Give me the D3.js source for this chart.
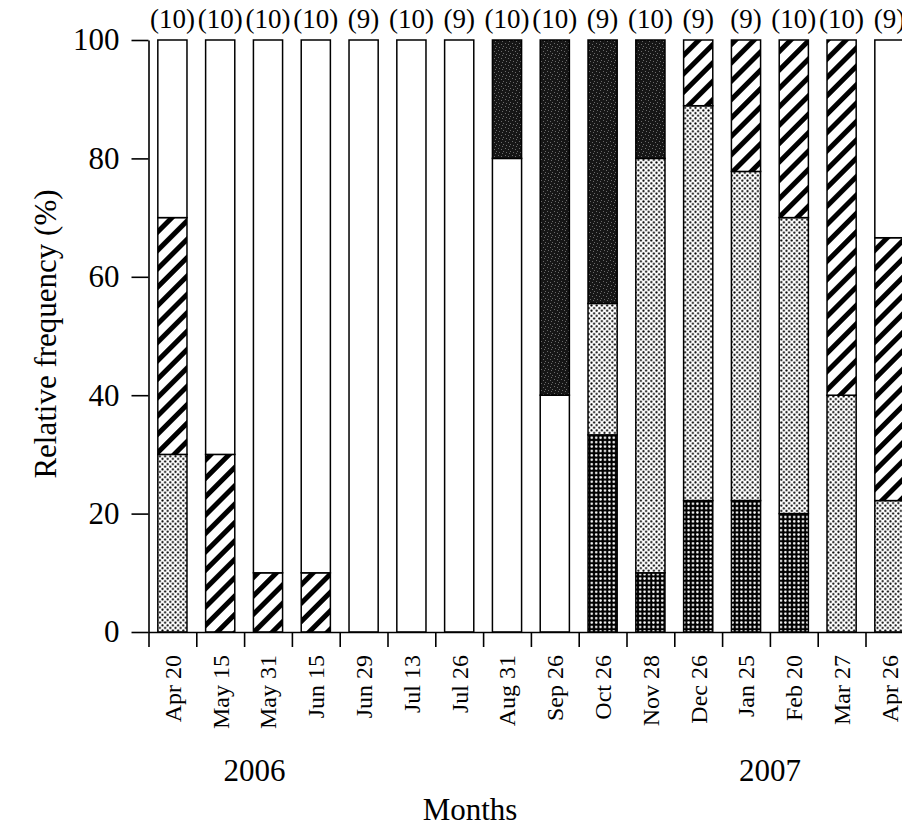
<!DOCTYPE html>
<html>
<head>
<meta charset="utf-8">
<script src="https://cdn.jsdelivr.net/npm/d3@7"></script>
<style>
  body { margin: 0; background: #fff; }
  text { font-family: "Liberation Serif", "Times New Roman", serif; fill: #000; }
  .axis path, .axis line { stroke: #000; stroke-width: 1.6; }
</style>
</head>
<body>
<div class="chart"></div>
<script>
// Sampling dates, sample sizes and stacked percentages (bottom to top)
var dates = ["Apr 20", "May 15", "May 31", "Jun 15", "Jun 29", "Jul 13", "Jul 26", "Aug 31",
             "Sep 26", "Oct 26", "Nov 28", "Dec 26", "Jan 25", "Feb 20", "Mar 27", "Apr 26"];
var sampleSizes = [10, 10, 10, 10, 9, 10, 9, 10, 10, 9, 10, 9, 9, 10, 10, 9];
var darkDots  = [0, 0, 0, 0, 0, 0, 0, 0, 0, 33.3, 10, 22.2, 22.2, 20, 0, 0];
var lightDots = [30, 0, 0, 0, 0, 0, 0, 0, 0, 22.2, 70, 66.7, 55.6, 50, 40, 22.2];
var hatched   = [40, 30, 10, 10, 0, 0, 0, 0, 0, 0, 0, 11.1, 22.2, 30, 60, 44.4];
var open      = [30, 70, 90, 90, 100, 100, 100, 80, 40, 0, 0, 0, 0, 0, 0, 33.4];
var solid     = [0, 0, 0, 0, 0, 0, 0, 20, 60, 44.5, 20, 0, 0, 0, 0, 0];
var yTicks = [0, 20, 40, 60, 80, 100];
var years = ["2006", "2007"];
var yearPos = [2.22, 13];   // in category-edge units along the x axis

var svgWidth = 902;
var svgHeight = 826;
var margin = {top: 40, left: 148.5, bottom: 194};
var plotHeight = svgHeight - margin.top - margin.bottom;
var step = 47.8;

var keys = ["darkDots", "lightDots", "hatched", "open", "solid"];
var table = dates.map(function(d, i) {
  return {date: d, n: sampleSizes[i], darkDots: darkDots[i], lightDots: lightDots[i],
          hatched: hatched[i], open: open[i], solid: solid[i]};
});

var svg = d3.select(".chart")
  .append("svg")
  .attr("width", svgWidth)
  .attr("height", svgHeight);

// fill patterns
var defs = svg.append("defs");

var pd = defs.append("pattern").attr("id", "darkDots")
  .attr("width", 4.4).attr("height", 4.4).attr("patternUnits", "userSpaceOnUse");
pd.append("rect").attr("width", 4.4).attr("height", 4.4).attr("fill", "#000");
pd.append("circle").attr("cx", 2.2).attr("cy", 2.2).attr("r", 1.25).attr("fill", "#fff");

var pl = defs.append("pattern").attr("id", "lightDots")
  .attr("width", 5.2).attr("height", 5.2).attr("patternUnits", "userSpaceOnUse");
pl.append("rect").attr("width", 5.2).attr("height", 5.2).attr("fill", "#fff");
pl.append("circle").attr("cx", 1.3).attr("cy", 1.3).attr("r", 1.05).attr("fill", "#000");
pl.append("circle").attr("cx", 3.9).attr("cy", 3.9).attr("r", 1.05).attr("fill", "#000");

var ph = defs.append("pattern").attr("id", "hatched")
  .attr("width", 13).attr("height", 13).attr("patternUnits", "userSpaceOnUse")
  .attr("patternTransform", "rotate(45)");
ph.append("rect").attr("width", 13).attr("height", 13).attr("fill", "#fff");
ph.append("rect").attr("width", 5).attr("height", 13).attr("fill", "#000");

var ps = defs.append("pattern").attr("id", "solid")
  .attr("width", 7).attr("height", 7).attr("patternUnits", "userSpaceOnUse");
ps.append("rect").attr("width", 7).attr("height", 7).attr("fill", "#161616");
[[1, 1], [4, 2], [2, 5], [6, 4], [5, 6]].forEach(function(p) {
  ps.append("rect").attr("x", p[0]).attr("y", p[1]).attr("width", 1).attr("height", 1).attr("fill", "#6a6a6a");
});

var fills = {darkDots: "url(#darkDots)", lightDots: "url(#lightDots)", hatched: "url(#hatched)",
             open: "#fff", solid: "url(#solid)"};

// scales
var xBand = d3.scaleBand()
  .domain(dates)
  .range([margin.left, margin.left + step * dates.length])
  .paddingInner(0.39)
  .paddingOuter(0.195);

var xEdge = d3.scaleLinear()
  .domain([0, dates.length])
  .range([margin.left, margin.left + step * dates.length]);

var y = d3.scaleLinear()
  .domain([0, 100])
  .range([margin.top + plotHeight, margin.top]);

var series = d3.stack().keys(keys)(table);

// bars
svg.append("g").selectAll("g")
  .data(series)
  .enter()
  .append("g")
  .attr("fill", function(s) { return fills[s.key]; })
  .selectAll("rect")
  .data(function(s) { return s.filter(function(d) { return d[1] - d[0] > 0; }); })
  .enter()
  .append("rect")
  .attr("x", function(d) { return xBand(d.data.date); })
  .attr("y", function(d) { return y(d[1]); })
  .attr("width", xBand.bandwidth())
  .attr("height", function(d) { return y(d[0]) - y(d[1]); })
  .attr("stroke", "#000")
  .attr("stroke-width", 1.5);

// axes
svg.append("g")
  .attr("class", "axis")
  .attr("transform", "translate(" + margin.left + ",0)")
  .call(d3.axisLeft(y).tickValues(yTicks).tickSize(17).tickSizeOuter(0).tickPadding(12))
  .selectAll("text")
  .style("font-size", "31px");

svg.append("g")
  .attr("class", "axis")
  .attr("transform", "translate(0," + y(0) + ")")
  .call(d3.axisBottom(xEdge).tickValues(d3.range(dates.length + 1)).tickFormat("").tickSize(15).tickSizeOuter(0));

// date labels
svg.append("g").selectAll("text")
  .data(dates)
  .enter()
  .append("text")
  .attr("transform", function(d) { return "translate(" + (xBand(d) + xBand.bandwidth() / 2) + ",655) rotate(-90)"; })
  .attr("text-anchor", "end")
  .attr("dy", "0.35em")
  .style("font-size", "24px")
  .text(function(d) { return d; });

// sample sizes over bars
svg.append("g").selectAll("text")
  .data(table)
  .enter()
  .append("text")
  .attr("x", function(d) { return xBand(d.date) + xBand.bandwidth() / 2; })
  .attr("y", 28)
  .attr("text-anchor", "middle")
  .style("font-size", "27px")
  .text(function(d) { return "(" + d.n + ")"; });

// years
svg.append("g").selectAll("text")
  .data(years)
  .enter()
  .append("text")
  .attr("x", function(d, i) { return xEdge(yearPos[i]); })
  .attr("y", 781)
  .attr("text-anchor", "middle")
  .style("font-size", "31px")
  .text(function(d) { return d; });

// axis titles
svg.append("text")
  .attr("x", 470)
  .attr("y", 820)
  .attr("text-anchor", "middle")
  .style("font-size", "31px")
  .text("Months");

svg.append("text")
  .attr("transform", "translate(56," + 334 + ") rotate(-90)")
  .attr("text-anchor", "middle")
  .style("font-size", "31px")
  .text("Relative frequency (%)");
</script>
</body>
</html>
